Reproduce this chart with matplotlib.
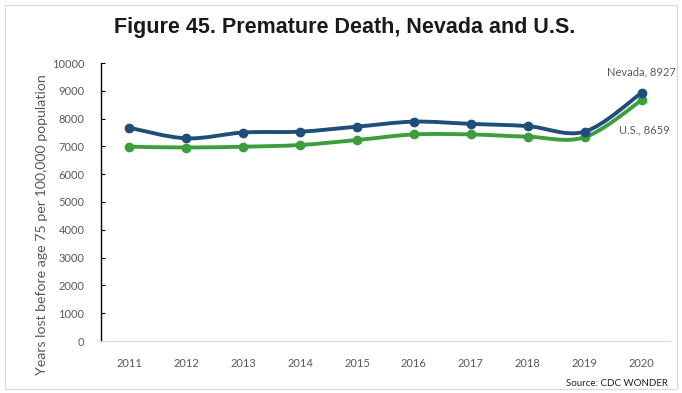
import numpy as np
import matplotlib
matplotlib.use('Agg')
import matplotlib.pyplot as plt
from matplotlib.path import Path
from matplotlib.patches import PathPatch, Rectangle

# ── DATA ──────────────────────────────────────────────────────────────────────
years  = [2011, 2012, 2013, 2014, 2015, 2016, 2017, 2018, 2019, 2020]
nevada = [7670, 7290, 7500, 7530, 7710, 7890, 7810, 7730, 7530, 8927]
us     = [6990, 6960, 6990, 7050, 7230, 7430, 7430, 7350, 7330, 8659]

NV_COL = '#1f4e79'
US_COL = '#3c9e3c'
GRAY   = '#595959'


def smooth_path(xs, ys):
    # Excel-style smoothed line (Catmull-Rom as cubic bezier segments)
    p = np.column_stack([xs, ys]).astype(float)
    n = len(p)
    verts, codes = [p[0]], [Path.MOVETO]
    for i in range(n - 1):
        p0 = p[i - 1] if i > 0 else p[i]
        p3 = p[i + 2] if i + 2 < n else p[i + 1]
        c1 = p[i] + (p[i + 1] - p0) / 6
        c2 = p[i + 1] - (p3 - p[i]) / 6
        verts += [c1, c2, p[i + 1]]
        codes += [Path.CURVE4] * 3
    return Path(verts, codes)


fig = plt.figure(figsize=(6.82, 3.93), dpi=100)
fig.patches.append(Rectangle((5 / 682, 4 / 393), 672 / 682, 384 / 393,
                             transform=fig.transFigure, fill=False,
                             edgecolor='#d9d9d9', lw=0.8))
ax = fig.add_axes([101 / 682, 52 / 393, 569 / 682, 278 / 393])

x = np.arange(len(years))
for vals, col in [(us, US_COL), (nevada, NV_COL)]:
    ax.add_patch(PathPatch(smooth_path(x, vals), fill=False, edgecolor=col,
                           lw=2.8, capstyle='round', joinstyle='round'))
    ax.plot(x, vals, 'o', color=col, ms=6)

ax.set_xlim(-0.5, len(years) - 0.5)
ax.set_ylim(0, 10000)
ax.set_yticks(range(0, 10001, 1000))
ax.set_xticks(x)
ax.set_xticklabels([str(y) for y in years])

for s in ['top', 'right']:
    ax.spines[s].set_visible(False)
ax.spines['left'].set_color('#000000')
ax.spines['left'].set_linewidth(1.0)
ax.spines['bottom'].set_color('#d9d9d9')
ax.tick_params(axis='y', direction='in', length=3, color='#000000',
               labelsize=8, labelcolor=GRAY, pad=12)
ax.tick_params(axis='x', length=0, labelsize=8, labelcolor=GRAY, pad=12)
for lab in ax.get_xticklabels() + ax.get_yticklabels():
    lab.set_family('Lato')

ax.set_ylabel('Years lost before age 75 per 100,000 population', fontsize=10.2,
              color=GRAY, family='Lato')
ax.yaxis.set_label_coords(-0.093, 0.42)

ax.annotate(f'Nevada, {nevada[-1]}', (x[-1], nevada[-1]), xytext=(0, 11),
            textcoords='offset points', ha='center', va='bottom',
            fontsize=8, color=GRAY, family='Lato')
ax.annotate(f'U.S., {us[-1]}', (x[-1], us[-1]), xytext=(2, -21),
            textcoords='offset points', ha='center', va='center',
            fontsize=8, color=GRAY, family='Lato')

fig.text(0.505, 0.93, 'Figure 45. Premature Death, Nevada and U.S.',
         ha='center', va='center', fontsize=15.5, fontweight='bold',
         family='Liberation Sans', color='#1a1a1a')
fig.text(668 / 682, 10 / 393, 'Source: CDC WONDER', ha='right', va='center',
         fontsize=7, color='#222222', family='Lato')

fig.savefig('out.png', dpi=100)
